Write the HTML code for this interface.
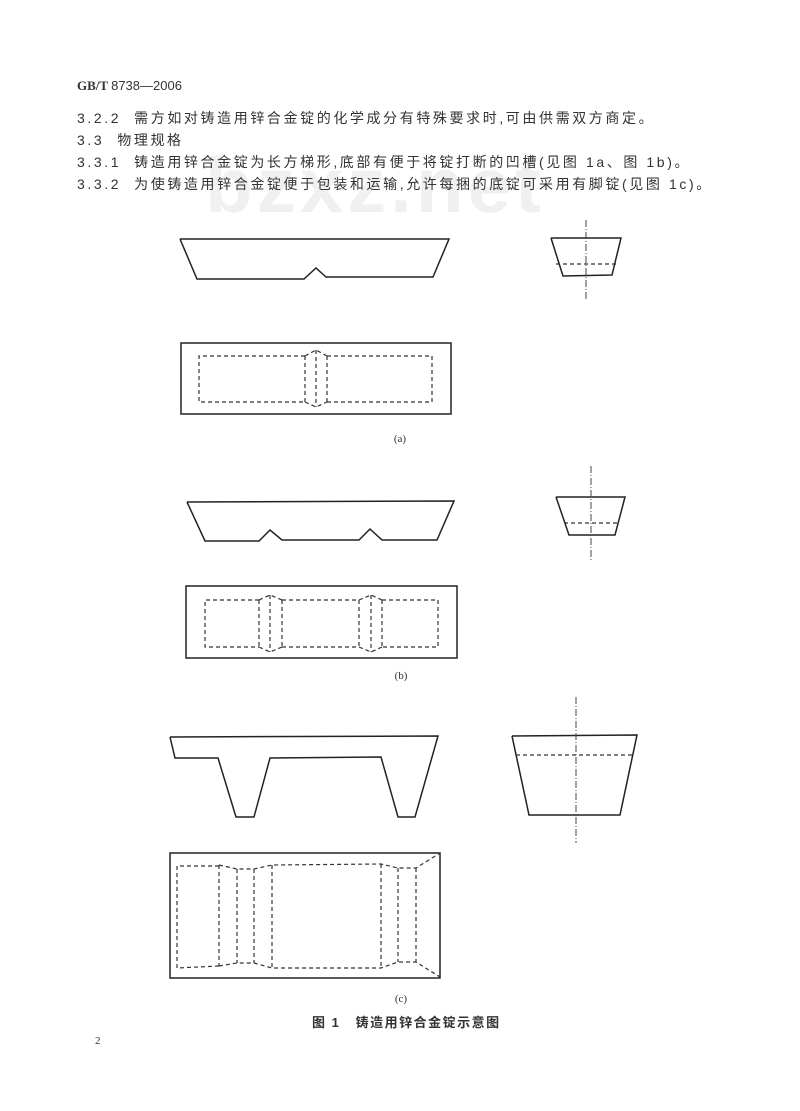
<!DOCTYPE html>
<html><head><meta charset="utf-8"><style>
html,body{margin:0;padding:0;background:#fff;}
body{width:800px;height:1111px;position:relative;overflow:hidden;font-family:"Liberation Sans","Noto Sans CJK SC",sans-serif;color:#333;}
.t{position:absolute;left:77px;font-size:14px;white-space:nowrap;letter-spacing:2.6px;}
svg{position:absolute;left:0;top:0;}
</style></head><body>
<svg width="800" height="1111" viewBox="0 0 800 1111">
<text x="375" y="212" font-family="Liberation Sans,sans-serif" font-weight="bold" font-size="78" fill="#f0f0f0" text-anchor="middle" letter-spacing="4">bzxz.net</text>
<g fill="none" stroke="#222" stroke-width="1.5">
<polyline points="180,239 449,239 433,277 326,277 316,268 304,279 197,279 180,239"/>
<polyline points="551,238 621,238 612,275 563,276 551,238"/>
<rect x="181" y="343" width="270" height="71"/>
<polyline points="187,502 454,501 437,540 382,540 370,529 359,540 282,540 270,530 259,541 205,541 187,502"/>
<polyline points="556,497 625,497 615,535 569,535 556,497"/>
<rect x="186" y="586" width="271" height="72"/>
<polyline points="170,737 438,736 415,817 398,817 381,757 270,758 254,817 236,817 218,758 175,758 170,737"/>
<polyline points="512,736 637,735 620,815 529,815 512,736"/>
<rect x="170" y="853" width="270" height="125"/>
</g>
<g fill="none" stroke="#333" stroke-width="1.2" stroke-dasharray="4,3">
<line x1="556" y1="264" x2="617" y2="264"/>
<polyline points="305,356 199,356 199,402 305,402"/>
<polyline points="327,356 432,356 432,402 327,402"/>
<polyline points="305,356 316,350 327,356"/><polyline points="305,402 316,407 327,402"/>
<line x1="305" y1="356" x2="305" y2="402"/><line x1="316" y1="350" x2="316" y2="407"/><line x1="327" y1="356" x2="327" y2="402"/>
<line x1="564" y1="523" x2="618" y2="523"/>
<polyline points="259,600 205,600 205,647 259,647"/>
<polyline points="282,600 359,600"/><polyline points="282,647 359,647"/>
<polyline points="382,600 438,600 438,647 382,647"/>
<polyline points="259,600 270,595 282,600"/><polyline points="259,647 270,652 282,647"/>
<polyline points="359,600 371,595 382,600"/><polyline points="359,647 371,652 382,647"/>
<line x1="259" y1="600" x2="259" y2="647"/><line x1="270" y1="595" x2="270" y2="652"/><line x1="282" y1="600" x2="282" y2="647"/>
<line x1="359" y1="600" x2="359" y2="647"/><line x1="371" y1="595" x2="371" y2="652"/><line x1="382" y1="600" x2="382" y2="647"/>
<line x1="516" y1="755" x2="632" y2="755"/>
<polyline points="219,866 177,866 177,968 219,966"/>
<polyline points="219,865 237,869 254,869 272,865 381,864 398,868 416,868 440,853"/>
<polyline points="219,966 237,963 254,963 272,968 381,968 398,962 416,962 440,977"/>
<line x1="219" y1="865" x2="219" y2="966"/><line x1="237" y1="869" x2="237" y2="963"/><line x1="254" y1="869" x2="254" y2="963"/><line x1="272" y1="865" x2="272" y2="968"/>
<line x1="381" y1="864" x2="381" y2="968"/><line x1="398" y1="868" x2="398" y2="962"/><line x1="416" y1="868" x2="416" y2="962"/>
</g>
<g fill="none" stroke="#444" stroke-width="1" stroke-dasharray="7,2,1,2">
<line x1="586" y1="220" x2="586" y2="301"/>
<line x1="591" y1="466" x2="591" y2="560"/>
<line x1="576" y1="697" x2="576" y2="843"/>
</g>
<g font-family="Liberation Serif,serif" font-size="11" fill="#333" text-anchor="middle">
<text x="400" y="442">(a)</text>
<text x="401" y="679">(b)</text>
<text x="401" y="1002">(c)</text>
</g>
</svg>
<div style="position:absolute;left:77px;top:78px;font-family:'Liberation Serif',serif;font-weight:bold;font-size:13px;white-space:nowrap;">GB/T <span style="font-family:'Liberation Sans',sans-serif;font-weight:normal">8738—2006</span></div>
<div class="t" style="top:108px;">3.2.2&nbsp; 需方如对铸造用锌合金锭的化学成分有特殊要求时,可由供需双方商定。</div>
<div class="t" style="top:130px;">3.3&nbsp; 物理规格</div>
<div class="t" style="top:152px;">3.3.1&nbsp; 铸造用锌合金锭为长方梯形,底部有便于将锭打断的凹槽(见图 1a、图 1b)。</div>
<div class="t" style="top:174px;">3.3.2&nbsp; 为使铸造用锌合金锭便于包装和运输,允许每捆的底锭可采用有脚锭(见图 1c)。</div>
<div style="position:absolute;top:1012px;left:312px;font-size:13px;font-weight:bold;letter-spacing:1.5px;white-space:nowrap;">图 1&nbsp;&nbsp; 铸造用锌合金锭示意图</div>
<div style="position:absolute;top:1035px;left:95px;font-size:11px;font-family:'Liberation Serif',serif;">2</div>
</body></html>
